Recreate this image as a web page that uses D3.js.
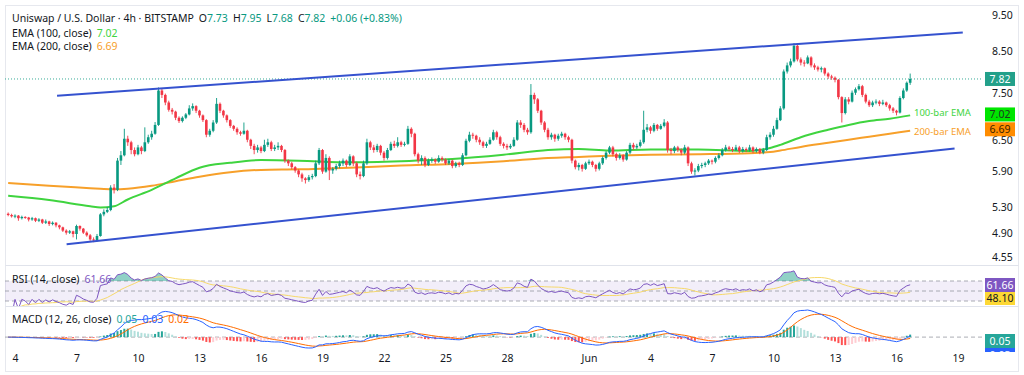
<!DOCTYPE html>
<html>
<head>
<meta charset="utf-8">
<script src="https://cdn.jsdelivr.net/npm/d3@7"></script>
<style>
  body { margin: 0; background: #fff; }
  svg text { font-family: "Noto Sans", sans-serif; }
</style>
</head>
<body>
<script>
// UNI/USD 4h candles, first one opens May 3 16:00
var startTime = new Date(2025, 4, 3, 16)
var firstOpen = 5.19

var closes = [
  5.17,5.15,5.16,5.12,5.14,5.13,5.10,5.12,5.08,5.10,
  5.05,5.07,5.03,5.05,5.01,4.98,4.93,4.90,4.92,4.88,
  5.00,4.96,4.90,4.86,4.80,4.79,4.85,5.18,5.22,5.25,
  5.62,5.58,6.10,6.20,6.52,6.45,6.30,6.22,6.35,6.28,
  6.45,6.55,6.62,6.80,7.55,7.45,7.28,7.12,7.08,6.95,
  6.88,6.95,7.02,7.15,7.20,7.10,7.00,6.90,6.60,6.68,
  6.85,7.25,7.10,7.00,6.90,6.78,6.72,6.65,6.62,6.68,
  6.50,6.38,6.30,6.35,6.28,6.40,6.45,6.32,6.35,6.38,
  6.30,6.10,6.05,5.98,5.92,5.85,5.78,5.75,5.80,5.82,
  6.05,6.30,5.90,6.15,5.92,5.95,6.00,6.05,6.10,6.02,
  6.18,6.05,5.85,5.82,6.05,6.45,6.35,6.30,6.38,6.25,
  6.15,6.30,6.42,6.38,6.45,6.40,6.42,6.72,6.62,6.22,
  6.10,6.15,6.02,6.10,6.12,6.08,6.15,6.12,6.05,6.10,
  6.00,6.05,6.02,6.20,6.48,6.60,6.58,6.50,6.45,6.38,
  6.42,6.50,6.65,6.55,6.42,6.38,6.35,6.38,6.50,6.85,
  6.80,6.70,6.65,7.45,7.35,7.10,6.85,6.70,6.55,6.60,
  6.52,6.58,6.62,6.55,6.50,6.10,5.98,6.02,5.95,6.05,
  6.08,6.02,5.95,6.05,6.15,6.25,6.35,6.22,6.15,6.20,
  6.12,6.25,6.40,6.35,6.38,6.45,6.70,6.75,6.68,6.80,
  6.72,6.78,6.85,6.30,6.28,6.35,6.30,6.25,6.35,6.05,
  5.90,5.92,6.00,6.02,6.05,6.10,6.08,6.15,6.20,6.30,
  6.35,6.32,6.30,6.35,6.28,6.32,6.30,6.35,6.28,6.32,
  6.25,6.30,6.55,6.60,6.72,6.90,7.15,8.00,8.15,8.25,
  8.65,8.30,8.22,8.20,8.35,8.15,8.10,8.05,8.08,7.95,
  7.88,7.85,7.80,7.40,7.05,7.35,7.30,7.50,7.58,7.65,
  7.45,7.30,7.22,7.28,7.30,7.25,7.28,7.22,7.15,7.10,
  7.06,7.38,7.55,7.73,7.82
]

var highs = [
  5.21,5.19,5.18,5.17,5.16,5.15,5.14,5.14,5.13,5.12,
  5.11,5.10,5.08,5.07,5.06,5.02,4.99,4.95,4.94,4.93,
  5.02,5.01,4.97,4.92,4.88,4.83,4.88,5.20,5.26,5.30,
  5.66,5.68,6.15,6.28,6.72,6.58,6.48,6.35,6.40,6.38,
  6.75,6.60,6.68,6.86,7.62,7.60,7.48,7.32,7.16,7.10,
  6.98,6.98,7.05,7.22,7.26,7.22,7.12,7.02,6.92,6.72,
  6.90,7.38,7.28,7.12,7.02,6.92,6.80,6.75,6.68,6.85,
  6.70,6.52,6.42,6.40,6.38,6.50,6.52,6.48,6.40,6.45,
  6.40,6.32,6.12,6.08,6.00,5.94,5.88,5.80,5.84,5.86,
  6.10,6.34,6.32,6.22,6.18,5.98,6.04,6.10,6.14,6.12,
  6.22,6.20,6.08,5.90,6.10,6.52,6.48,6.40,6.42,6.40,
  6.28,6.34,6.46,6.48,6.55,6.48,6.46,6.78,6.75,6.64,
  6.25,6.20,6.18,6.14,6.16,6.14,6.20,6.18,6.14,6.13,
  6.12,6.08,6.08,6.24,6.52,6.66,6.64,6.60,6.55,6.48,
  6.46,6.55,6.70,6.68,6.58,6.45,6.42,6.42,6.55,6.90,
  6.90,6.84,6.74,7.70,7.50,7.38,7.12,6.88,6.74,6.64,
  6.62,6.62,6.66,6.64,6.58,6.52,6.12,6.06,6.04,6.08,
  6.12,6.10,6.04,6.08,6.18,6.28,6.38,6.38,6.25,6.24,
  6.22,6.28,6.44,6.44,6.42,6.50,7.10,6.82,6.78,6.84,
  6.82,6.82,6.92,6.88,6.34,6.38,6.38,6.33,6.40,6.37,
  6.08,5.96,6.04,6.06,6.08,6.13,6.12,6.18,6.24,6.34,
  6.40,6.38,6.36,6.40,6.38,6.36,6.35,6.40,6.37,6.35,
  6.34,6.34,6.60,6.65,6.78,6.95,7.20,8.05,8.22,8.32,
  8.72,8.68,8.35,8.28,8.40,8.38,8.20,8.14,8.12,8.10,
  7.98,7.92,7.88,7.82,7.42,7.40,7.40,7.55,7.62,7.70,
  7.68,7.48,7.34,7.32,7.35,7.33,7.34,7.30,7.25,7.18,
  7.12,7.42,7.60,7.76,7.95
]

var lows = [
  5.15,5.13,5.12,5.08,5.10,5.11,5.07,5.08,5.06,5.06,
  5.03,5.03,5.00,5.01,4.98,4.95,4.91,4.87,4.88,4.83,
  4.80,4.93,4.88,4.84,4.78,4.76,4.77,4.84,5.15,5.20,
  5.23,5.52,5.56,6.02,6.18,6.38,6.22,6.18,6.20,6.22,
  6.26,6.42,6.50,6.60,6.78,7.38,7.22,7.08,7.02,6.90,
  6.84,6.85,6.92,7.00,7.10,7.05,6.95,6.86,6.55,6.56,
  6.65,6.82,7.05,6.95,6.85,6.74,6.68,6.60,6.58,6.60,
  6.45,6.32,6.22,6.25,6.24,6.26,6.36,6.28,6.28,6.30,
  6.26,6.06,6.00,5.94,5.88,5.80,5.72,5.69,5.72,5.76,
  5.80,6.02,5.86,5.88,5.75,5.86,5.92,5.96,6.00,5.98,
  6.00,6.00,5.80,5.76,5.80,6.02,6.30,6.25,6.26,6.20,
  6.10,6.12,6.28,6.34,6.35,6.36,6.37,6.40,6.55,6.18,
  6.05,6.02,5.98,6.00,6.06,6.04,6.06,6.08,6.02,6.02,
  5.96,5.97,5.98,6.00,6.18,6.45,6.52,6.45,6.40,6.34,
  6.34,6.40,6.48,6.50,6.38,6.33,6.30,6.32,6.36,6.48,
  6.74,6.65,6.60,6.62,7.25,7.05,6.80,6.65,6.50,6.50,
  6.46,6.48,6.54,6.50,6.45,6.05,5.94,5.92,5.90,5.93,
  6.02,5.98,5.90,5.92,6.02,6.12,6.22,6.18,6.10,6.12,
  6.08,6.10,6.22,6.30,6.32,6.35,6.42,6.65,6.62,6.65,
  6.68,6.70,6.75,6.25,6.22,6.24,6.26,6.20,6.22,6.00,
  5.86,5.83,5.89,5.96,5.98,6.02,6.03,6.05,6.12,6.18,
  6.27,6.28,6.26,6.28,6.24,6.25,6.26,6.27,6.24,6.25,
  6.22,6.22,6.28,6.50,6.56,6.70,6.88,7.12,7.95,8.10,
  8.22,8.25,8.15,8.12,8.18,8.10,8.04,8.00,7.98,7.90,
  7.82,7.80,7.74,7.35,6.85,7.02,7.24,7.28,7.45,7.55,
  7.40,7.26,7.18,7.18,7.24,7.20,7.22,7.18,7.10,7.05,
  7.00,7.04,7.35,7.52,7.68
]

// EMA lines at a few bars
var emaBars = [0, 12, 24, 27, 31, 35, 42, 49, 56, 65, 74, 85, 100, 115, 130, 145, 158, 167, 176, 188, 202, 217, 223, 226, 232, 240, 246, 252, 258, 264]
var ema100 = [5.48, 5.41, 5.31, 5.29, 5.31, 5.42, 5.58, 5.78, 5.97, 6.06, 6.11, 6.10, 6.07, 6.09, 6.13, 6.21, 6.30, 6.32, 6.29, 6.31, 6.31, 6.28, 6.34, 6.40, 6.55, 6.70, 6.80, 6.88, 6.93, 7.00]
var ema200 = [5.70, 5.65, 5.61, 5.60, 5.59, 5.60, 5.65, 5.73, 5.81, 5.89, 5.93, 5.94, 5.97, 6.01, 6.04, 6.09, 6.15, 6.17, 6.19, 6.21, 6.22, 6.24, 6.26, 6.29, 6.36, 6.44, 6.50, 6.56, 6.62, 6.68]

// channel trend lines: [bar, price]
var upperLine = [[14.3, 7.43], [279.4, 9.01]]
var lowerLine = [[17.1, 4.73], [277.0, 6.33]]

var priceTicks = [9.5, 8.5, 7.5, 6.5, 5.9, 5.3, 4.9, 4.55]
var dayTicks = ["2025-05-04","2025-05-07","2025-05-10","2025-05-13","2025-05-16","2025-05-19","2025-05-22",
                "2025-05-25","2025-05-28","2025-06-01","2025-06-04","2025-06-07","2025-06-10","2025-06-13",
                "2025-06-16","2025-06-19"]

var screen = {width: 1024, height: 375}
var plot = {left: 5, right: 983}
var pane = {price: [6, 265], rsi: [266, 306], macd: [306, 350]}

var up = "#089981", down = "#f23645"
var hour = 3600 * 1000

var bars = closes.map(function(c, i) {
  return {t: new Date(+startTime + i * 4 * hour), o: i ? closes[i - 1] : firstOpen, h: highs[i], l: lows[i], c: c}
})
var barTime = function(i) { return new Date(+startTime + i * 4 * hour) }

// indicators: RSI 14 (Wilder) + its 14 SMA, MACD 12/26/9
var rsi = [null], ag = 0, al = 0
for (var i = 1; i < closes.length; i++) {
  var ch = closes[i] - closes[i - 1]
  var g = Math.max(ch, 0), l = Math.max(-ch, 0)
  if (i <= 14) { ag = (ag * (i - 1) + g) / i; al = (al * (i - 1) + l) / i }
  else { ag = (ag * 13 + g) / 14; al = (al * 13 + l) / 14 }
  rsi.push(al === 0 ? 100 : 100 - 100 / (1 + ag / al))
}
var rsiMa = rsi.map(function(v, i) {
  if (v == null) return null
  var win = rsi.slice(Math.max(1, i - 13), i + 1)
  return d3.mean(win)
})

var ema = function(arr, n) {
  var k = 2 / (n + 1), out = [], prev = arr[0]
  arr.forEach(function(v) { prev = v * k + prev * (1 - k); out.push(prev) })
  return out
}
var e12 = ema(closes, 12), e26 = ema(closes, 26)
var macd = e12.map(function(v, i) { return v - e26[i] })
var signal = ema(macd, 9)
var hist = macd.map(function(v, i) { return v - signal[i] })

// scales
var x = d3.scaleTime()
          .domain([new Date(2025, 4, 4), new Date(2025, 5, 19)])
          .range([15, 958])
var y = d3.scaleLog().domain([4.55, 9.5]).range([257, 15])
var yRsi = d3.scaleLinear().domain([30, 70]).range([301, 281])
var mExt = d3.extent(macd.concat(signal, hist))
var yMacd = d3.scaleLinear().domain(mExt).range([348, 310])

var svg = d3.select("body")
            .append("svg")
            .attr("width", screen.width)
            .attr("height", screen.height)

svg.append("rect").attr("width", screen.width).attr("height", screen.height).attr("fill", "#fff")

var defs = svg.append("defs")
defs.append("clipPath").attr("id", "clipPrice")
    .append("rect").attr("x", plot.left).attr("y", pane.price[0])
    .attr("width", plot.right - plot.left).attr("height", pane.price[1] - pane.price[0])
defs.append("clipPath").attr("id", "clipRsi")
    .append("rect").attr("x", plot.left).attr("y", pane.rsi[0])
    .attr("width", plot.right - plot.left).attr("height", pane.rsi[1] - pane.rsi[0])
defs.append("clipPath").attr("id", "clipMacd")
    .append("rect").attr("x", plot.left).attr("y", pane.macd[0])
    .attr("width", plot.right - plot.left).attr("height", pane.macd[1] - pane.macd[0])
defs.append("clipPath").attr("id", "clipTags")
    .append("rect").attr("x", 980).attr("y", 306).attr("width", 40).attr("height", 46)

// frame and pane separators
svg.append("rect")
   .attr("x", 5.5).attr("y", 5.5).attr("width", 1013).attr("height", 366)
   .attr("fill", "none").attr("stroke", "#e6e8ee")
;[pane.price[1], pane.rsi[1]].forEach(function(yy) {
  svg.append("line")
     .attr("x1", 5.5).attr("x2", 1018.5).attr("y1", yy + 0.5).attr("y2", yy + 0.5)
     .attr("stroke", "#e0e3eb")
})

// ---------- price pane ----------
var pg = svg.append("g").attr("clip-path", "url(#clipPrice)")

// last price dotted line
pg.append("line")
  .attr("x1", plot.left).attr("x2", plot.right)
  .attr("y1", y(closes[closes.length - 1])).attr("y2", y(closes[closes.length - 1]))
  .attr("stroke", up).attr("stroke-dasharray", "1,2").attr("opacity", 0.8)

var emaLine = function(vals) {
  return d3.line()
           .x(function(d, i) { return x(barTime(emaBars[i])) })
           .y(function(d) { return y(d) })
           .curve(d3.curveMonotoneX)(vals)
}
pg.append("path").attr("d", emaLine(ema200)).attr("fill", "none").attr("stroke", "#f7a02a").attr("stroke-width", 2)
pg.append("path").attr("d", emaLine(ema100)).attr("fill", "none").attr("stroke", "#3fd43f").attr("stroke-width", 2)

var candles = pg.append("g").selectAll("g").data(bars).enter().append("g")
candles.append("line")
       .attr("x1", function(d) { return x(d.t) }).attr("x2", function(d) { return x(d.t) })
       .attr("y1", function(d) { return y(d.h) }).attr("y2", function(d) { return y(d.l) })
       .attr("stroke", function(d) { return d.c >= d.o ? up : down })
       .attr("stroke-width", 0.9)
candles.append("rect")
       .attr("x", function(d) { return x(d.t) - 1.3 })
       .attr("width", 2.6)
       .attr("y", function(d) { return y(Math.max(d.o, d.c)) })
       .attr("height", function(d) { return Math.max(1, Math.abs(y(d.o) - y(d.c))) })
       .attr("fill", function(d) { return d.c >= d.o ? up : down })

// channel
;[upperLine, lowerLine].forEach(function(ln) {
  pg.append("line")
    .attr("x1", x(barTime(ln[0][0]))).attr("y1", y(ln[0][1]))
    .attr("x2", x(barTime(ln[1][0]))).attr("y2", y(ln[1][1]))
    .attr("stroke", "#3552cf").attr("stroke-width", 2)
})

svg.append("text").attr("x", 914).attr("y", y(ema100[ema100.length - 1]) + 1)
   .attr("font-size", 9.5).attr("fill", "#3fd43f").text("100-bar EMA")
svg.append("text").attr("x", 914).attr("y", y(ema200[ema200.length - 1]) + 4)
   .attr("font-size", 9.5).attr("fill", "#f7a02a").text("200-bar EMA")

// price axis
var yAxis = d3.axisRight(y).tickValues(priceTicks).tickFormat(d3.format(".2f")).tickSize(0).tickPadding(0)
svg.append("g").attr("transform", "translate(992,0)").call(yAxis)
   .call(function(g) {
     g.select(".domain").remove()
     g.selectAll("text").attr("font-size", 10.5).attr("fill", "#131722").attr("font-family", "Noto Sans")
   })

var tag = function(parent, yy, txt, bg, fg) {
  parent.append("rect").attr("x", 985).attr("y", yy - 7).attr("width", 30).attr("height", 14).attr("fill", bg)
  parent.append("text").attr("x", 1000).attr("y", yy + 3.8).attr("text-anchor", "middle")
        .attr("font-size", 10.5).attr("fill", fg).text(txt)
}
tag(svg, y(7.82), "7.82", "#22a08a", "#fff")
tag(svg, y(7.02), "7.02", "#00e600", "#1e3b1e")
tag(svg, y(6.69) - 1, "6.69", "#ff8c00", "#3a2200")

// ---------- RSI pane ----------
var rg = svg.append("g").attr("clip-path", "url(#clipRsi)")
rg.append("rect").attr("x", plot.left).attr("width", plot.right - plot.left)
  .attr("y", yRsi(70)).attr("height", yRsi(30) - yRsi(70)).attr("fill", "rgba(126,87,194,0.1)")
;[70, 50, 30].forEach(function(v) {
  rg.append("line").attr("x1", plot.left).attr("x2", 1018)
    .attr("y1", yRsi(v)).attr("y2", yRsi(v))
    .attr("stroke", "#9598a1").attr("stroke-dasharray", "4,3").attr("stroke-width", 0.8)
})
var rsiPts = bars.map(function(d, i) { return {t: d.t, v: rsi[i], m: rsiMa[i]} }).filter(function(d) { return d.v != null })
rg.append("path")
  .attr("d", d3.area().x(function(d) { return x(d.t) })
               .y0(yRsi(70)).y1(function(d) { return yRsi(Math.max(70, d.v)) })(rsiPts))
  .attr("fill", "rgba(8,153,129,0.45)")
rg.append("path")
  .attr("d", d3.line().x(function(d) { return x(d.t) }).y(function(d) { return yRsi(d.m) })(rsiPts))
  .attr("fill", "none").attr("stroke", "#f7d96a").attr("stroke-width", 1)
rg.append("path")
  .attr("d", d3.line().x(function(d) { return x(d.t) }).y(function(d) { return yRsi(d.v) })(rsiPts))
  .attr("fill", "none").attr("stroke", "#7e57c2").attr("stroke-width", 1)

svg.append("rect").attr("x", 985).attr("y", 278).attr("width", 30).attr("height", 14).attr("fill", "#7e57c2")
svg.append("text").attr("x", 1000).attr("y", 289).attr("text-anchor", "middle").attr("font-size", 10.5).attr("fill", "#fff").text("61.66")
svg.append("rect").attr("x", 985).attr("y", 292).attr("width", 30).attr("height", 13).attr("fill", "#fdd835")
svg.append("text").attr("x", 1000).attr("y", 302).attr("text-anchor", "middle").attr("font-size", 10.5).attr("fill", "#131722").text("48.10")

// ---------- MACD pane ----------
var mg = svg.append("g").attr("clip-path", "url(#clipMacd)")
mg.append("line").attr("x1", plot.left).attr("x2", 1018)
  .attr("y1", yMacd(0)).attr("y2", yMacd(0))
  .attr("stroke", "#9598a1").attr("stroke-dasharray", "4,3").attr("stroke-width", 0.8)
mg.append("g").selectAll("rect").data(bars).enter().append("rect")
  .attr("x", function(d) { return x(d.t) - 1 })
  .attr("width", 2)
  .attr("y", function(d, i) { return Math.min(yMacd(0), yMacd(hist[i])) })
  .attr("height", function(d, i) { return Math.abs(yMacd(hist[i]) - yMacd(0)) })
  .attr("fill", function(d, i) {
    var h = hist[i], p = i ? hist[i - 1] : h
    if (h >= 0) return p < h ? "#26a69a" : "#b2dfdb"
    return p < h ? "#ffcdd2" : "#ff5252"
  })
var mline = function(arr) {
  return d3.line().x(function(d) { return x(d.t) }).y(function(d, i) { return yMacd(arr[i]) })(bars)
}
mg.append("path").attr("d", mline(signal)).attr("fill", "none").attr("stroke", "#ff6d00").attr("stroke-width", 1)
mg.append("path").attr("d", mline(macd)).attr("fill", "none").attr("stroke", "#2962ff").attr("stroke-width", 1)

var mt = svg.append("g").attr("clip-path", "url(#clipTags)")
tag(mt, 341, "0.05", "#26a69a", "#fff")
tag(mt, 355, "0.03", "#2962ff", "#fff")

// time axis
var xAxis = d3.axisBottom(x)
              .tickValues(dayTicks.map(function(s) { return d3.timeParse("%Y-%m-%d")(s) }))
              .tickFormat(function(d) { return d.getDate() == 1 ? d3.timeFormat("%b")(d) : d.getDate() })
              .tickSize(0).tickPadding(0)
svg.append("g").attr("transform", "translate(0,355)").call(xAxis)
   .call(function(g) {
     g.select(".domain").remove()
     g.selectAll("text").attr("font-size", 10.5).attr("fill", "#131722").attr("font-family", "Noto Sans")
   })

// ---------- legends ----------
var legend = function(yy, parts) {
  var t = svg.append("text").attr("x", 12).attr("y", yy).attr("font-size", 10.5)
  parts.forEach(function(p) {
    t.append("tspan").attr("fill", p[1]).attr("dx", p[2] || 0).text(p[0])
  })
}
legend(22, [["Uniswap / U.S. Dollar · 4h · BITSTAMP", "#131722"],
            ["O", "#131722", 5], ["7.73", up], ["H", "#131722", 5], ["7.95", up],
            ["L", "#131722", 5], ["7.68", up], ["C", "#131722", 5], ["7.82", up],
            ["+0.06 (+0.83%)", up, 5]])
legend(37, [["EMA (100, close)", "#131722"], ["7.02", "#3fd43f", 5]])
legend(50, [["EMA (200, close)", "#131722"], ["6.69", "#f7a02a", 5]])
legend(283, [["RSI (14, close)", "#131722"], ["61.66", "#7e57c2", 5]])
legend(323, [["MACD (12, 26, close)", "#131722"], ["0.05", "#26a69a", 5], ["0.03", "#2962ff", 5], ["0.02", "#ff6d00", 5]])
</script>
</body>
</html>
